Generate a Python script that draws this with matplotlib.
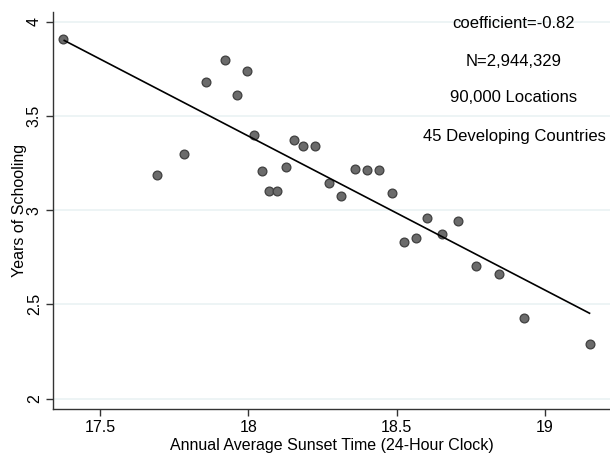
import matplotlib.pyplot as plt

plt.rcParams["font.family"] = ["Liberation Sans", "DejaVu Sans"]

# binned means: sunset time vs years of schooling
sunset_time = [17.375, 17.692, 17.783, 17.857, 17.921, 17.962, 17.995, 18.019,
               18.046, 18.070, 18.097, 18.127, 18.154, 18.184, 18.225, 18.272,
               18.312, 18.359, 18.400, 18.440, 18.484, 18.525, 18.565, 18.602,
               18.653, 18.707, 18.767, 18.845, 18.929, 19.151]
schooling = [3.908, 3.187, 3.298, 3.680, 3.797, 3.611, 3.738, 3.399,
             3.208, 3.102, 3.102, 3.229, 3.372, 3.340, 3.340, 3.144,
             3.075, 3.218, 3.213, 3.213, 3.091, 2.831, 2.852, 2.957,
             2.873, 2.943, 2.704, 2.661, 2.428, 2.290]

# fitted line end points
fit_x = [17.38, 19.15]
fit_y = [3.90, 2.453]

notes = ["coefficient=-0.82", "N=2,944,329", "90,000 Locations",
         "45 Developing Countries"]
x_ticks = [17.5, 18, 18.5, 19]
y_ticks = [2, 2.5, 3, 3.5, 4]

fig = plt.figure(figsize=(6.1, 4.54), dpi=100)
ax = fig.add_axes([53 / 610, 1 - 409 / 454, 557 / 610, 397 / 454])

ax.scatter(sunset_time, schooling, s=40, color="#6b6b6b", edgecolor="#3f3f3f",
           linewidth=0.9, zorder=3)
ax.plot(fit_x, fit_y, color="black", linewidth=1.2, zorder=4)

ax.set_xlim(17.342, 19.219)
ax.set_ylim(1.945, 4.051)
ax.set_xticks(x_ticks)
ax.set_xticklabels(["17.5", "18", "18.5", "19"])
ax.set_yticks(y_ticks)
ax.set_yticklabels(["2", "2.5", "3", "3.5", "4"], rotation=90, va="center")
ax.grid(axis="y", color="#eaf2f3", linewidth=1.2, zorder=0)
ax.set_axisbelow(True)

for side in ["top", "right"]:
    ax.spines[side].set_visible(False)
for side in ["left", "bottom"]:
    ax.spines[side].set_color("#333333")
    ax.spines[side].set_linewidth(1.0)
ax.tick_params(direction="out", length=5, width=1.0, color="#333333",
               labelsize=11.5, pad=3)

ax.set_xlabel("Annual Average Sunset Time (24-Hour Clock)", fontsize=11.5,
              labelpad=2)
ax.set_ylabel("Years of Schooling", fontsize=11.5, labelpad=0)

note_y = [23, 61, 98, 136]
for txt, py in zip(notes, note_y):
    fig.text(514 / 610, 1 - py / 454, txt, ha="center", va="center",
             fontsize=12)

fig.savefig("out.png", dpi=100)
